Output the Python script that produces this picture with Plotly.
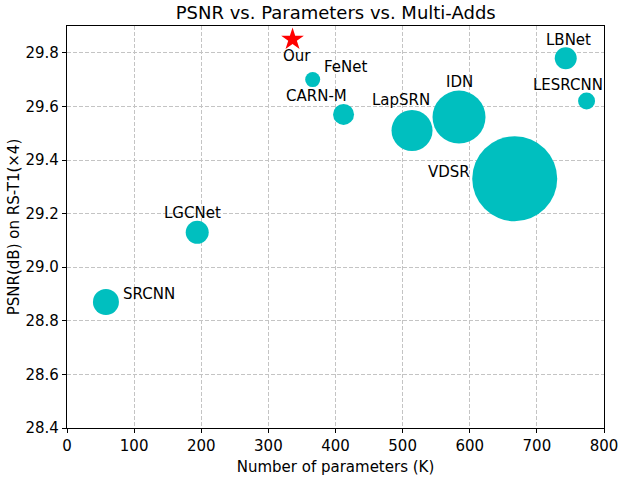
import plotly.graph_objects as go

# models (bubble area ~ multi-adds)
models = ["FeNet", "CARN-M", "LapSRN", "IDN", "VDSR", "LBNet", "LESRCNN", "LGCNet", "SRCNN"]
params_k = [366, 412, 514, 584, 667, 743, 774, 194, 58]
psnr = [29.70, 29.57, 29.51, 29.56, 29.33, 29.78, 29.62, 29.13, 28.87]
multi_adds = [19.1, 37.4, 142.5, 238.2, 612.6, 41.0, 24.5, 44.9, 57.3]

# our model
our_name = "Our"
our_params = 336
our_psnr = 29.85

x_ticks = [0, 100, 200, 300, 400, 500, 600, 700, 800]
y_ticks = [28.4, 28.6, 28.8, 29.0, 29.2, 29.4, 29.6, 29.8]

# label offsets in px (x, y up)
label_shift = {
    "FeNet": (33, 13),
    "CARN-M": (-27, 18),
    "LapSRN": (-11, 31),
    "IDN": (0, 35),
    "VDSR": (-66, 7),
    "LBNet": (3, 18),
    "LESRCNN": (-19, 16),
    "LGCNet": (-5, 19),
    "SRCNN": (43, 8),
}

font = "DejaVu Sans"
max_d = 85

fig = go.Figure()
fig.add_trace(go.Scatter(
    x=params_k, y=psnr, mode="markers",
    marker=dict(size=multi_adds, sizemode="area",
                sizeref=2 * max(multi_adds) / max_d ** 2,
                color="#00BFBF", opacity=1, line=dict(width=0)),
    showlegend=False, hoverinfo="skip"))
fig.add_trace(go.Scatter(
    x=[our_params], y=[our_psnr], mode="markers",
    marker=dict(symbol="star", size=17, color="#FF0000", line=dict(width=0)),
    showlegend=False, hoverinfo="skip"))

for name, xv, yv in zip(models, params_k, psnr):
    dx, dy = label_shift[name]
    fig.add_annotation(x=xv, y=yv, text=name, showarrow=False,
                       xshift=dx, yshift=dy, xanchor="center", yanchor="middle",
                       font=dict(family=font, size=15, color="black"))
fig.add_annotation(x=our_params, y=our_psnr, text=our_name, showarrow=False,
                   xshift=4, yshift=-17, xanchor="center", yanchor="middle",
                   font=dict(family=font, size=15, color="black"))

axis_common = dict(
    showline=True, linecolor="black", linewidth=1.2, mirror=True,
    ticks="outside", ticklen=4, tickwidth=1.1, tickcolor="black",
    showgrid=True, gridcolor="#c4c4c4", gridwidth=1, griddash="4px,2px",
    zeroline=False, tickfont=dict(family=font, size=15, color="black"),
    automargin=False,
)

fig.update_xaxes(range=[0, 800], tickvals=x_ticks, ticktext=[str(t) for t in x_ticks],
                 title=dict(text="Number of parameters (K)", standoff=7,
                            font=dict(family=font, size=15, color="black")),
                 **axis_common)
fig.update_yaxes(range=[28.4, 29.9], tickvals=y_ticks, ticktext=["%.1f" % t for t in y_ticks],
                 title=dict(text="PSNR(dB) on RS-T1(×4)", standoff=2,
                            font=dict(family=font, size=15, color="black")),
                 **axis_common)

fig.update_layout(
    width=624, height=479,
    margin=dict(l=67, r=20, t=26, b=51, autoexpand=False),
    plot_bgcolor="white", paper_bgcolor="white",
    title=dict(text="PSNR vs. Parameters vs. Multi-Adds", x=0.538, xanchor="center",
               y=1 - 12.5 / 479, yanchor="middle", yref="container",
               font=dict(family=font, size=18, color="black")),
)

# drop the default page margin so the figure sits at the window corner
fig.write_html("out.html", config={"displayModeBar": False},
               post_script="document.body.style.margin='0';")
